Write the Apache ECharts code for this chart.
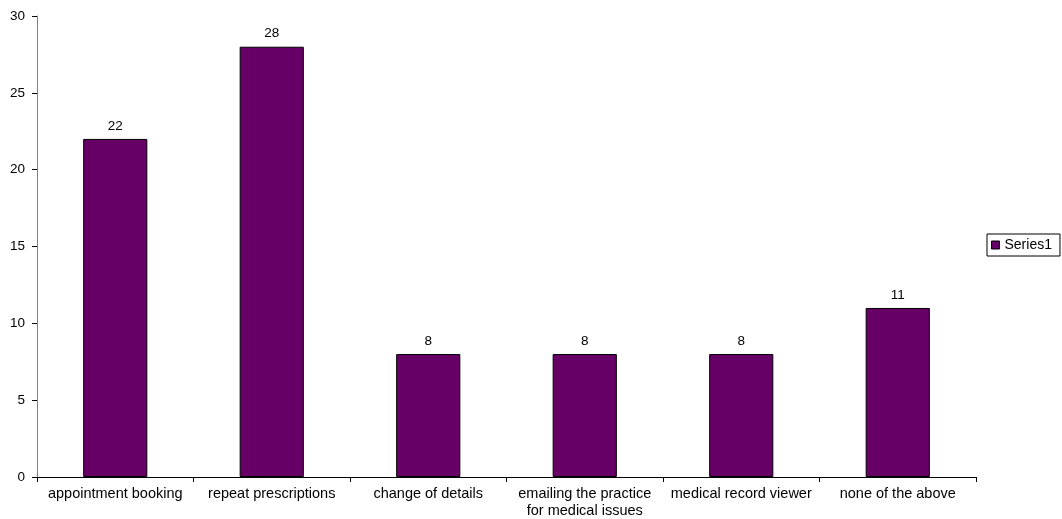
<!DOCTYPE html>
<html>
<head>
<meta charset="utf-8">
<style>
  html, body { margin: 0; padding: 0; background: #fff; }
  #chart { width: 1062px; height: 519px; }
</style>
<script src="https://cdn.jsdelivr.net/npm/echarts@6/dist/echarts.min.js"></script>
</head>
<body>
<div id="chart"></div>
<script>
// Online services used
const categories = [
  'appointment booking',
  'repeat prescriptions',
  'change of details',
  'emailing the practice\nfor medical issues',
  'medical record viewer',
  'none of the above'
];
const series1 = [22, 28, 8, 8, 8, 11];
const yTicks = { min: 0, max: 30, interval: 5 };

const FONT = '"Liberation Sans", Arial, sans-serif';

const chart = echarts.init(document.getElementById('chart'), null, { renderer: 'canvas' });
chart.setOption({
  backgroundColor: '#ffffff',
  animation: false,
  textStyle: { fontFamily: FONT, color: '#000' },
  grid: { left: 37, right: 86, top: 16, bottom: 42, containLabel: false },
  legend: {
    orient: 'vertical',
    left: 987,
    top: 234,
    padding: [4, 8, 4, 4],
    borderColor: '#000',
    borderWidth: 1,
    itemWidth: 8,
    itemHeight: 8,
    itemGap: 4,
    textStyle: { fontFamily: FONT, fontSize: 14, color: '#000', padding: [0, 0, 0, 0] },
    data: [{ name: 'Series1', icon: 'rect', itemStyle: { borderColor: '#000', borderWidth: 1 } }]
  },
  xAxis: {
    type: 'category',
    data: categories,
    boundaryGap: true,
    axisLine: { lineStyle: { color: '#000', width: 1 } },
    axisTick: { show: true, length: 5, lineStyle: { color: '#000' } },
    axisLabel: { fontFamily: FONT, fontSize: 14.5, color: '#000', margin: 8, lineHeight: 17, interval: 0 },
    splitLine: { show: false }
  },
  yAxis: {
    type: 'value',
    min: yTicks.min,
    max: yTicks.max,
    interval: yTicks.interval,
    axisLine: { show: true, lineStyle: { color: '#808080', width: 1 } },
    axisTick: { show: true, length: 5, lineStyle: { color: '#000' } },
    axisLabel: { fontFamily: FONT, fontSize: 13.5, color: '#000', margin: 12 },
    splitLine: { show: false }
  },
  series: [{
    name: 'Series1',
    type: 'bar',
    data: series1,
    barWidth: '41%',
    itemStyle: { color: '#660066', borderColor: '#000', borderWidth: 1 },
    label: { show: true, position: 'top', distance: 6, fontFamily: FONT, fontSize: 13.5, color: '#000' }
  }]
});
</script>
</body>
</html>
